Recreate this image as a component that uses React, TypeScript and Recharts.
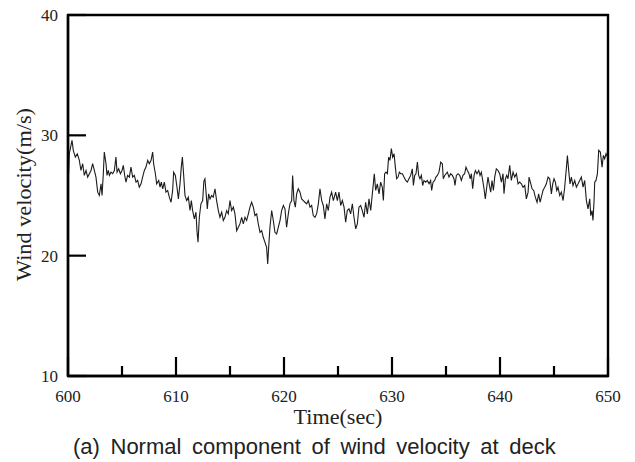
import React from "react";
import { LineChart, Line, XAxis, YAxis, Label, ReferenceArea } from "recharts";

const TIME = [
  600.06, 600.12, 600.37, 600.49, 600.68, 600.86, 601.05, 601.2, 601.36, 601.51, 601.67, 601.82, 601.98, 602.13, 602.28, 602.44, 602.59, 602.75, 602.9, 603.06, 603.15, 603.27, 603.36, 603.52, 603.61, 603.73, 603.83, 603.98, 604.14, 604.29, 604.44, 604.54, 604.69, 604.85, 605.0, 605.12, 605.25, 605.37, 605.52, 605.68, 605.83, 605.99, 606.14, 606.3, 606.45, 606.6, 606.76, 606.91, 607.07, 607.22, 607.38, 607.53, 607.69, 607.84, 607.93, 608.09, 608.21, 608.4, 608.52, 608.64, 608.77, 608.92, 609.07, 609.23, 609.38, 609.54, 609.69, 609.78, 609.94, 610.09, 610.22, 610.37, 610.49, 610.59, 610.71, 610.83, 610.99, 611.14, 611.3, 611.42, 611.54, 611.7, 611.85, 611.94, 612.04, 612.16, 612.31, 612.47, 612.58,
  612.68, 612.78, 612.9, 613.02, 613.15, 613.3, 613.45, 613.61, 613.76, 613.92, 614.07, 614.23, 614.38, 614.53, 614.69, 614.84, 615.0, 615.15, 615.31, 615.46, 615.62, 615.77, 615.92, 616.08, 616.23, 616.39, 616.54, 616.7, 616.85, 617.0, 617.16, 617.31, 617.47, 617.62, 617.78, 617.93, 618.08, 618.24, 618.39, 618.49, 618.58, 618.7, 618.86, 619.01, 619.16, 619.32, 619.47, 619.63, 619.78, 619.94, 620.09, 620.24, 620.4, 620.55, 620.71, 620.8, 620.92, 621.05, 621.17, 621.32, 621.48, 621.63, 621.79, 621.94, 622.1, 622.25, 622.41, 622.56, 622.71, 622.87, 623.02, 623.18, 623.33, 623.49, 623.64, 623.79, 623.95, 624.1, 624.26, 624.41, 624.57,
  624.78, 624.94, 625.09, 625.25, 625.4, 625.56, 625.71, 625.86, 626.02, 626.17, 626.33, 626.48, 626.64, 626.79, 626.94, 627.1, 627.25, 627.41, 627.56, 627.72, 627.87, 628.03, 628.18, 628.27, 628.36, 628.49, 628.64, 628.8, 628.95, 629.1, 629.2, 629.32, 629.44, 629.57, 629.69, 629.81, 629.94, 630.06, 630.19, 630.31, 630.43, 630.56, 630.68, 630.8, 630.96, 631.11, 631.27, 631.42, 631.57, 631.73, 631.88, 631.98, 632.1, 632.22, 632.35, 632.47, 632.59, 632.72, 632.84, 632.96, 633.12, 633.27, 633.43, 633.58, 633.67, 633.8, 633.95, 634.07, 634.2, 634.35, 634.51, 634.66, 634.75, 634.88, 635.0, 635.12, 635.28, 635.43, 635.59, 635.74, 635.83, 635.96, 636.11, 636.27, 636.42, 636.57, 636.73, 636.85, 636.98, 637.13, 637.24, 637.35,
  637.47, 637.6, 637.72, 637.87, 638.03, 638.15, 638.27, 638.4, 638.52, 638.64, 638.77, 638.89, 639.02, 639.14, 639.26, 639.39, 639.51, 639.66, 639.82, 639.97, 640.13, 640.28, 640.37, 640.5, 640.62, 640.74, 640.9, 641.05, 641.21, 641.36, 641.52, 641.67, 641.82, 641.98, 642.13, 642.29, 642.44, 642.6, 642.69, 642.81, 642.97, 643.12, 643.27, 643.43, 643.58, 643.71, 643.83, 643.98, 644.14, 644.29, 644.45, 644.6, 644.76, 644.88, 645.0, 645.13, 645.25, 645.37, 645.53, 645.68, 645.84, 645.99, 646.14, 646.24, 646.36, 646.48, 646.61, 646.76, 646.92, 647.07, 647.23, 647.38, 647.53, 647.69, 647.84, 648.0, 648.15, 648.31, 648.4, 648.52, 648.61, 648.71, 648.77, 648.89, 649.02, 649.14, 649.29, 649.45, 649.57, 649.69, 649.82, 649.95,
];

const VELOCITY = [
  26.81, 28.47, 29.58, 28.75, 28.19, 28.47, 27.92, 27.08, 27.64, 26.67, 27.08, 26.53, 26.81, 27.08, 27.64, 27.08, 26.53, 25.28, 25.0, 25.97, 25.0, 26.81, 28.61, 27.64, 26.67, 27.08, 26.67, 26.94, 26.81, 27.08, 28.19, 26.94, 27.22, 26.81, 27.08, 27.5, 26.67, 26.11, 26.67, 26.53, 27.36, 26.53, 26.67, 26.11, 26.25, 25.69, 25.97, 26.53, 27.08, 27.36, 27.92, 27.64, 27.92, 28.61, 27.64, 26.81, 25.97, 26.25, 25.69, 26.11, 25.56, 26.11, 25.28, 25.42, 24.86, 24.44, 25.42, 26.94, 26.67, 25.69, 24.72, 25.97, 27.36, 28.19, 26.67, 25.0, 24.58, 24.86, 23.75, 24.58, 23.75, 23.06, 23.61, 22.08, 21.11, 23.19, 24.31, 24.58, 26.2,
  26.39, 25.28, 23.89, 25.14, 24.72, 25.0, 24.86, 25.56, 24.58, 23.75, 23.19, 23.61, 22.92, 23.19, 23.75, 23.47, 24.58, 23.75, 24.03, 23.47, 22.08, 22.36, 22.64, 23.19, 22.64, 23.19, 22.92, 23.47, 24.03, 24.44, 24.03, 23.33, 23.47, 22.64, 21.94, 22.08, 21.53, 21.11, 20.69, 19.31, 20.69, 22.36, 23.75, 22.92, 21.94, 21.81, 22.36, 22.92, 23.75, 24.17, 23.89, 22.36, 23.47, 24.31, 24.58, 26.67, 24.58, 24.03, 25.14, 25.56, 25.28, 24.72, 24.58, 24.44, 24.31, 24.58, 24.03, 24.17, 23.33, 23.19, 23.47, 24.31, 25.56, 24.58, 24.17, 23.06, 24.31, 23.75, 24.86, 25.28, 24.58,
  25.28, 24.58, 25.28, 24.17, 24.58, 24.03, 22.78, 23.75, 23.89, 23.47, 24.31, 23.19, 22.22, 22.64, 24.03, 24.17, 23.75, 23.19, 24.44, 23.47, 24.72, 23.75, 25.14, 25.97, 26.81, 25.42, 25.97, 25.14, 26.11, 25.69, 24.58, 26.81, 26.94, 26.81, 28.19, 27.92, 28.89, 28.19, 28.47, 27.36, 26.39, 26.53, 26.94, 26.81, 26.81, 26.53, 26.25, 26.11, 26.39, 26.67, 27.22, 25.83, 26.67, 26.81, 27.78, 26.67, 26.39, 26.67, 25.83, 26.25, 26.11, 26.25, 25.97, 26.25, 25.42, 26.11, 26.25, 26.53, 26.67, 26.94, 27.78, 27.64, 26.39, 26.67, 26.81, 26.94, 26.53, 26.81, 26.67, 26.39, 25.83, 26.67, 26.81, 26.67, 26.25, 26.67, 26.81, 27.36, 27.08, 26.81, 26.39, 26.81,
  25.56, 26.67, 27.08, 26.81, 27.08, 26.67, 26.94, 26.25, 25.56, 24.72, 25.69, 26.53, 25.83, 25.28, 26.25, 25.42, 26.53, 27.22, 27.08, 26.81, 26.11, 26.81, 25.14, 26.39, 26.67, 26.39, 27.5, 26.25, 26.94, 26.53, 26.81, 25.97, 26.11, 25.97, 25.69, 25.83, 24.72, 25.28, 26.53, 26.11, 25.56, 25.42, 24.86, 24.44, 25.14, 24.44, 24.86, 25.42, 25.69, 25.97, 26.53, 26.39, 25.14, 25.97, 26.39, 26.11, 25.42, 25.69, 25.0, 25.28, 24.58, 25.69, 27.22, 28.33, 27.08, 25.97, 26.53, 25.83, 26.25, 25.69, 25.97, 26.25, 26.53, 25.69, 26.25, 24.58, 23.89, 24.72, 23.33, 23.75, 22.92, 24.58, 26.11, 26.25, 26.81, 28.75, 28.61, 27.36, 28.33, 28.06, 28.47, 28.19,
];

const X_TICKS = [600, 605, 610, 615, 620, 625, 630, 635, 640, 645, 650];
const Y_TICKS = [10, 20, 30, 40];
const X_DOMAIN = [600, 650];
const Y_DOMAIN = [10, 40];
const X_TITLE = "Time(sec)";
const Y_TITLE = "Wind velocity(m/s)";
const CAPTION = "(a) Normal component of wind velocity at deck";

const data = TIME.map((t, i) => ({ t, v: VELOCITY[i] }));

const SERIF = "'Liberation Serif', 'Times New Roman', serif";
const SANS = "'Liberation Sans', Arial, sans-serif";

const XTick = (props: any) => {
  const { x, y, payload } = props;
  const v = payload.value;
  const major = v % 10 === 0;
  return (
    <g>
      <line x1={x} y1={y} x2={x} y2={y - (major ? 19 : 10)} stroke="#000" strokeWidth={2.2} />
      {major && (
        <text x={x} y={y + 26} textAnchor="middle" fontFamily={SERIF} fontSize={17} fill="#222">
          {v}
        </text>
      )}
    </g>
  );
};

const YTick = (props: any) => {
  const { x, y, payload } = props;
  return (
    <g>
      <line x1={x} y1={y} x2={x + 18} y2={y} stroke="#000" strokeWidth={2.2} />
      <text x={x - 10} y={y + 6} textAnchor="end" fontFamily={SERIF} fontSize={17} fill="#222">
        {payload.value}
      </text>
    </g>
  );
};

const XTitle = (props: any) => {
  const vb = props.viewBox;
  return (
    <text
      x={vb.x + vb.width / 2}
      y={vb.y + 48}
      textAnchor="middle"
      fontFamily={SERIF}
      fontSize={20}
      fill="#222"
      textLength={89}
      lengthAdjust="spacingAndGlyphs"
    >
      {X_TITLE}
    </text>
  );
};

const CaptionLabel = (props: any) => {
  const vb = props.viewBox;
  return (
    <text
      x={vb.x + 5}
      y={vb.y + 78}
      textAnchor="start"
      fontFamily={SANS}
      fontSize={22}
      fill="#222"
      style={{ wordSpacing: "4.5px" }}
    >
      {CAPTION}
    </text>
  );
};

const YTitle = (props: any) => {
  const vb = props.viewBox;
  const cx = vb.x + 31;
  const cy = vb.y + vb.height / 2 - 1;
  return (
    <text
      x={cx}
      y={cy}
      transform={`rotate(-90, ${cx}, ${cy})`}
      textAnchor="middle"
      fontFamily={SERIF}
      fontSize={21}
      fill="#222"
      textLength={173}
      lengthAdjust="spacingAndGlyphs"
    >
      {Y_TITLE}
    </text>
  );
};

export default function App() {
  const axisLine = { stroke: "#000", strokeWidth: 2.4 };
  return (
    <div style={{ position: "absolute", left: 0, top: 0, background: "#fff" }}>
      <LineChart width={635} height={462} data={data} margin={{ top: 15, right: 27, bottom: 0, left: 0 }}>
        <XAxis
          dataKey="t"
          type="number"
          domain={X_DOMAIN}
          ticks={X_TICKS}
          interval={0}
          height={86}
          tickSize={0}
          tickMargin={0}
          tickLine={false}
          axisLine={axisLine}
          tick={(p: any) => <XTick {...p} />}
          allowDataOverflow
        >
          <Label content={XTitle} />
          <Label content={CaptionLabel} />
        </XAxis>
        <YAxis
          type="number"
          domain={Y_DOMAIN}
          ticks={Y_TICKS}
          interval={0}
          width={68}
          tickSize={0}
          tickMargin={0}
          tickLine={false}
          axisLine={axisLine}
          tick={(p: any) => <YTick {...p} />}
          allowDataOverflow
        >
          <Label content={YTitle} />
        </YAxis>
        <ReferenceArea
          x1={X_DOMAIN[0]}
          x2={X_DOMAIN[1]}
          y1={Y_DOMAIN[0]}
          y2={Y_DOMAIN[1]}
          fill="none"
          fillOpacity={0}
          stroke="#000"
          strokeWidth={2.4}
          ifOverflow="visible"
        />
        <Line
          type="linear"
          dataKey="v"
          stroke="#1c1c1c"
          strokeWidth={1.1}
          dot={false}
          isAnimationActive={false}
        />
      </LineChart>
    </div>
  );
}
